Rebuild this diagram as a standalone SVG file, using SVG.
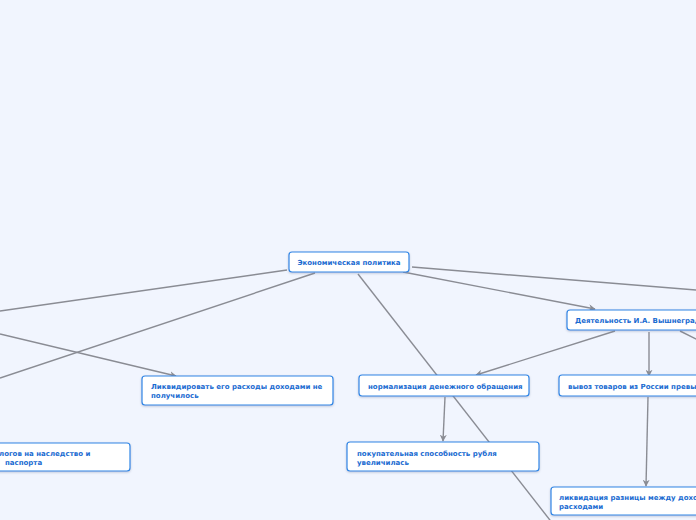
<svg xmlns="http://www.w3.org/2000/svg" width="696" height="520" viewBox="0 0 696 520">
<defs>
<marker id="arr" viewBox="0 0 10 10" refX="9" refY="5" markerWidth="7" markerHeight="7" markerUnits="userSpaceOnUse" orient="auto">
<path d="M0,0 L10,5 L0,10 L3,5 Z" fill="#8a8c94"/>
</marker>
<filter id="sh" x="-10%" y="-20%" width="120%" height="160%">
<feDropShadow dx="0" dy="1" stdDeviation="0.8" flood-color="#7a8aa8" flood-opacity="0.45"/>
</filter>
</defs>
<style>
.bg{fill:#f1f5fe}
.box{fill:#ffffff;stroke:#2f86e6;stroke-width:1.2;filter:url(#sh)}
.t{font-family:"DejaVu Sans",Verdana,sans-serif;font-size:7px;font-weight:bold;fill:#1a6bd1}
.c{fill:none;stroke:#8a8c94;stroke-width:1.4}
.a{marker-end:url(#arr)}
</style>
<rect class="bg" x="0" y="0" width="696" height="520"/>
<g id="connectors">
<line class="c" x1="287" y1="270" x2="0" y2="311"/>
<line class="c" x1="315" y1="273" x2="0" y2="378"/>
<line class="c a" x1="0" y1="334" x2="176" y2="376"/>
<line class="c a" x1="403" y1="272" x2="595" y2="309"/>
<line class="c" x1="412" y1="267" x2="696" y2="290"/>
<line class="c" x1="358" y1="274" x2="553" y2="524"/>
<line class="c a" x1="615" y1="331" x2="476" y2="375"/>
<line class="c a" x1="649" y1="332" x2="649" y2="376"/>
<line class="c" x1="680" y1="331" x2="700" y2="341"/>
<line class="c a" x1="445" y1="397" x2="443" y2="441"/>
<line class="c a" x1="648" y1="397" x2="646" y2="486"/>
</g>
<g id="n-main">
<rect class="box" x="289" y="252" width="120" height="20" rx="3"/>
<text class="t" x="349" y="264.5" text-anchor="middle">Экономическая политика</text>
</g>
<g id="n-vyshnegradsky">
<rect class="box" x="567" y="310" width="160" height="20" rx="3"/>
<text class="t" x="575" y="323">Деятельность И.А. Вышнеградского</text>
</g>
<g id="n-likvidirovat">
<rect class="box" x="142" y="376" width="191" height="29" rx="3"/>
<text class="t" x="151" y="389">Ликвидировать его расходы доходами не</text>
<text class="t" x="151" y="398">получилось</text>
</g>
<g id="n-normalizatsiya">
<rect class="box" x="359" y="375" width="170" height="21" rx="3"/>
<text class="t" x="368" y="389">нормализация денежного обращения</text>
</g>
<g id="n-vyvoz">
<rect class="box" x="559" y="375" width="180" height="21" rx="3"/>
<text class="t" x="568" y="389">вывоз товаров из России превышал ввоз</text>
</g>
<g id="n-nalogi">
<rect class="box" x="-60" y="443" width="190" height="28" rx="3"/>
<text class="t" x="-1" y="456">логов на наследство и</text>
<text class="t" x="5" y="464.5">паспорта</text>
</g>
<g id="n-pokupatelnaya">
<rect class="box" x="347" y="442" width="192" height="29" rx="3"/>
<text class="t" x="357" y="455.5">покупательная способность рубля</text>
<text class="t" x="357" y="464.5">увеличилась</text>
</g>
<g id="n-likvidatsiya">
<rect class="box" x="551" y="487" width="190" height="28" rx="3"/>
<text class="t" x="559" y="500">ликвидация разницы между доходами и</text>
<text class="t" x="559" y="508.5">расходами</text>
</g>
</svg>
